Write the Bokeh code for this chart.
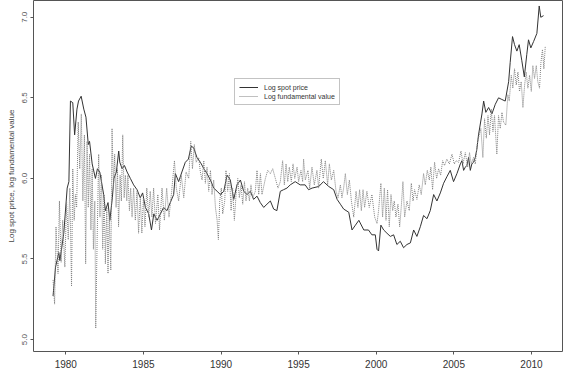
from bokeh.plotting import figure
from bokeh.models import Range1d, FixedTicker, PrintfTickFormatter, Legend, LegendItem
from bokeh.embed import file_html
from bokeh.resources import INLINE

# ---- data ----
spot_year = [1979.18, 1979.34, 1979.55, 1979.62, 1979.87, 1980.09, 1980.20, 1980.30, 1980.45, 1980.57,
             1980.72, 1980.82, 1980.99, 1981.16, 1981.30, 1981.45, 1981.53, 1981.70, 1981.91, 1982.04,
             1982.19, 1982.44, 1982.55, 1982.72, 1982.84, 1983.00, 1983.10, 1983.26, 1983.41, 1983.48,
             1983.63, 1983.78, 1983.95, 1984.16, 1984.37, 1984.59, 1984.80, 1984.95, 1985.13, 1985.34,
             1985.52, 1985.67, 1985.88, 1986.10, 1986.30, 1986.52, 1986.73, 1986.95, 1987.06, 1987.27,
             1987.48, 1987.70, 1987.90, 1988.08, 1988.24, 1988.45, 1988.67, 1988.90, 1989.10, 1989.32,
             1989.53, 1989.75, 1989.96, 1990.18, 1990.39, 1990.60, 1990.82, 1991.03, 1991.25, 1991.46,
             1991.68, 1991.89, 1992.10, 1992.32, 1992.53, 1992.75, 1992.96, 1993.18, 1993.39, 1993.60,
             1993.82, 1994.03, 1994.25, 1994.46, 1994.78, 1995.10, 1995.42, 1995.64, 1995.87, 1996.30,
             1996.60, 1996.94, 1997.26, 1997.48, 1997.69, 1997.90, 1998.23, 1998.44, 1998.66, 1998.88,
             1999.20, 1999.50, 1999.72, 1999.94, 2000.05, 2000.15, 2000.30, 2000.48, 2000.69, 2000.91,
             2001.12, 2001.33, 2001.55, 2001.76, 2001.98, 2002.20, 2002.41, 2002.62, 2002.84, 2003.05,
             2003.27, 2003.48, 2003.70, 2003.91, 2004.13, 2004.34, 2004.55, 2004.77, 2004.98, 2005.20,
             2005.42, 2005.52, 2005.63, 2005.74, 2005.84, 2005.95, 2006.06, 2006.16, 2006.27, 2006.38,
             2006.48, 2006.59, 2006.81, 2006.92, 2007.06, 2007.24, 2007.45, 2007.67, 2007.88, 2008.09,
             2008.31, 2008.53, 2008.63, 2008.78, 2008.91, 2009.06, 2009.21, 2009.38, 2009.54, 2009.70,
             2009.81, 2009.96, 2010.14, 2010.35, 2010.50, 2010.60, 2010.78]
spot_value = [5.27, 5.45, 5.54, 5.49, 5.66, 5.94, 5.98, 6.48, 6.47, 6.27,
              6.43, 6.48, 6.51, 6.43, 6.38, 6.21, 6.23, 6.09, 6.00, 6.06,
              6.04, 5.90, 5.80, 5.85, 5.74, 5.88, 6.00, 6.04, 6.17, 6.10,
              6.06, 6.08, 6.04, 6.00, 5.96, 5.93, 5.88, 5.91, 5.82, 5.78,
              5.68, 5.78, 5.74, 5.78, 5.82, 5.80, 5.85, 5.90, 6.03, 5.98,
              6.04, 6.10, 6.12, 6.20, 6.19, 6.13, 6.10, 6.06, 6.03, 5.99,
              5.94, 5.92, 5.90, 5.92, 6.02, 5.99, 5.87, 5.96, 5.99, 5.92,
              5.90, 5.92, 5.87, 5.89, 5.85, 5.82, 5.84, 5.86, 5.81, 5.80,
              5.92, 5.93, 5.94, 5.96, 5.98, 5.96, 5.96, 5.93, 5.94, 5.95,
              5.98, 5.95, 5.93, 5.87, 5.84, 5.81, 5.79, 5.68, 5.71, 5.74,
              5.68, 5.68, 5.65, 5.65, 5.56, 5.55, 5.71, 5.68, 5.66, 5.64,
              5.65, 5.59, 5.61, 5.57, 5.59, 5.60, 5.68, 5.64, 5.70, 5.77,
              5.75, 5.80, 5.90, 5.86, 5.91, 5.97, 6.01, 6.05, 5.98, 6.03,
              6.09, 6.11, 6.05, 6.07, 6.08, 6.13, 6.05, 6.09, 6.10, 6.13,
              6.18, 6.27, 6.40, 6.48, 6.41, 6.44, 6.40, 6.46, 6.50, 6.49,
              6.48, 6.60, 6.72, 6.88, 6.83, 6.79, 6.83, 6.73, 6.63, 6.77,
              6.86, 6.81, 6.85, 6.90, 7.07, 7.00, 7.01]

fund_year = [1979.18, 1979.28, 1979.37, 1979.50, 1979.59, 1979.70, 1979.80, 1979.94, 1980.05, 1980.16,
             1980.26, 1980.37, 1980.45, 1980.54, 1980.62, 1980.70, 1980.80, 1980.90, 1981.00, 1981.10,
             1981.20, 1981.28, 1981.37, 1981.45, 1981.53, 1981.62, 1981.70, 1981.78, 1981.87, 1981.93,
             1982.02, 1982.12, 1982.20, 1982.30, 1982.38, 1982.47, 1982.55, 1982.64, 1982.72, 1982.80,
             1982.90, 1982.98, 1983.07, 1983.15, 1983.24, 1983.33, 1983.40, 1983.50, 1983.58, 1983.67,
             1983.76, 1983.84, 1983.93, 1984.00, 1984.10, 1984.18, 1984.27, 1984.37, 1984.48, 1984.59,
             1984.69, 1984.80, 1984.90, 1985.00, 1985.10, 1985.22, 1985.34, 1985.44, 1985.55, 1985.66,
             1985.78, 1985.93, 1986.04, 1986.20, 1986.35, 1986.50, 1986.65, 1986.82, 1987.00, 1987.12,
             1987.27, 1987.44, 1987.60, 1987.75, 1987.92, 1988.05, 1988.16, 1988.28, 1988.40, 1988.56,
             1988.67, 1988.78, 1988.89, 1988.99, 1989.10, 1989.21, 1989.32, 1989.42, 1989.53, 1989.64,
             1989.75, 1989.83, 1989.92, 1990.02, 1990.11, 1990.24, 1990.32, 1990.43, 1990.54, 1990.65,
             1990.75, 1990.86, 1990.97, 1991.08, 1991.18, 1991.29, 1991.40, 1991.51, 1991.61, 1991.72,
             1991.83, 1991.93, 1992.04, 1992.21, 1992.32, 1992.43, 1992.54, 1992.64, 1992.86, 1993.01,
             1993.18, 1993.33, 1993.50, 1993.67, 1993.82, 1993.97, 1994.08, 1994.19, 1994.30, 1994.40,
             1994.53, 1994.64, 1994.75, 1994.90, 1995.00, 1995.15, 1995.26, 1995.32, 1995.43, 1995.60,
             1995.71, 1995.86, 1996.01, 1996.18, 1996.29, 1996.46, 1996.59, 1996.72, 1996.87, 1996.98,
             1997.11, 1997.26, 1997.41, 1997.54, 1997.69, 1997.79, 1997.90, 1998.01, 1998.14, 1998.27,
             1998.40, 1998.55, 1998.70, 1998.82, 1998.93, 1999.04, 1999.15, 1999.25, 1999.40, 1999.55,
             1999.72, 1999.90, 2000.05, 2000.15, 2000.30, 2000.41, 2000.52, 2000.63, 2000.73, 2000.84,
             2000.95, 2001.06, 2001.16, 2001.27, 2001.40, 2001.51, 2001.61, 2001.72, 2001.83, 2001.98,
             2002.13, 2002.26, 2002.37, 2002.47, 2002.62, 2002.77, 2002.90, 2003.05, 2003.16, 2003.29,
             2003.42, 2003.52, 2003.63, 2003.76, 2003.89, 2004.02, 2004.15, 2004.28, 2004.40, 2004.55,
             2004.71, 2004.88, 2005.03, 2005.16, 2005.31, 2005.46, 2005.59, 2005.74, 2005.89, 2006.01,
             2006.12, 2006.27, 2006.38, 2006.53, 2006.74, 2006.87, 2006.98, 2007.09, 2007.20, 2007.30,
             2007.41, 2007.52, 2007.62, 2007.77, 2007.88, 2007.99, 2008.10, 2008.20, 2008.35, 2008.48,
             2008.57, 2008.70, 2008.80, 2008.91, 2009.02, 2009.13, 2009.23, 2009.34, 2009.45, 2009.56,
             2009.66, 2009.77, 2009.88, 2009.99, 2010.09, 2010.20, 2010.31, 2010.41, 2010.52, 2010.61,
             2010.71, 2010.80, 2010.89]
fund_value = [5.37, 5.22, 5.70, 5.41, 5.86, 5.48, 5.74, 5.45, 5.86, 5.62,
              5.94, 5.33, 6.06, 5.74, 5.90, 5.82, 6.35, 6.06, 6.40, 5.86,
              6.27, 5.47, 6.23, 5.82, 6.15, 5.68, 6.06, 5.56, 5.86, 5.07,
              5.62, 6.15, 5.76, 6.02, 5.56, 5.90, 5.47, 5.82, 5.41, 5.78,
              5.43, 6.31, 5.94, 6.15, 5.82, 6.06, 5.70, 6.02, 5.86, 6.27,
              5.88, 6.02, 5.86, 6.02, 5.80, 5.94, 5.76, 5.94, 5.74, 5.92,
              5.66, 5.88, 5.66, 5.88, 5.70, 5.94, 5.76, 5.92, 5.76, 5.94,
              5.72, 5.90, 5.68, 5.94, 5.74, 5.94, 5.76, 5.92, 6.11, 5.94,
              5.86, 6.02, 5.88, 6.04, 6.00, 6.23, 6.06, 6.21, 6.10, 6.13,
              6.04, 5.99, 6.11, 5.97, 6.07, 5.92, 6.05, 5.90, 5.99, 5.82,
              5.74, 5.62, 5.86, 5.94, 5.78, 5.86, 6.05, 5.92, 6.03, 5.80,
              5.94, 5.74, 5.90, 6.00, 5.88, 5.96, 5.84, 5.98, 5.86, 5.94,
              5.86, 5.96, 5.88, 5.92, 6.05, 5.90, 6.03, 5.90, 6.00, 6.05,
              6.03, 6.06, 6.00, 5.94, 5.98, 6.11, 5.96, 6.09, 5.98, 6.07,
              5.98, 6.09, 6.00, 6.07, 5.98, 6.05, 5.98, 6.12, 5.99, 6.05,
              5.94, 6.07, 5.96, 6.05, 5.94, 6.12, 6.00, 6.11, 5.96, 6.09,
              5.99, 6.05, 5.92, 5.88, 5.96, 5.88, 5.94, 6.03, 5.90, 5.99,
              5.86, 5.76, 5.92, 5.82, 5.93, 5.80, 5.93, 5.82, 5.92, 5.82,
              5.90, 5.76, 5.72, 5.80, 5.97, 5.76, 5.94, 5.74, 5.93, 5.70,
              5.90, 5.80, 5.86, 5.76, 5.84, 5.70, 5.82, 5.98, 5.76, 5.86,
              5.80, 5.97, 5.86, 5.93, 5.87, 5.96, 5.90, 6.03, 5.96, 6.05,
              5.99, 6.07, 5.93, 6.10, 6.00, 6.06, 6.02, 6.11, 6.08, 6.12,
              6.09, 6.15, 6.09, 6.11, 6.10, 6.17, 6.09, 6.16, 6.07, 6.16,
              6.09, 6.13, 6.09, 6.23, 6.31, 6.13, 6.37, 6.25, 6.39, 6.27,
              6.43, 6.29, 6.39, 6.15, 6.39, 6.31, 6.41, 6.35, 6.33, 6.52,
              6.48, 6.64, 6.56, 6.68, 6.58, 6.66, 6.54, 6.60, 6.44, 6.58,
              6.66, 6.56, 6.64, 6.54, 6.70, 6.62, 6.70, 6.60, 6.56, 6.72,
              6.80, 6.68, 6.82]

x_ticks = [1980, 1985, 1990, 1995, 2000, 2005, 2010]
y_ticks = [5.0, 5.5, 6.0, 6.5, 7.0]
series_labels = ["Log spot price", "Log fundamental value"]
y_title = "Log spot price, log fundamental value"

p = figure(width=564, height=370, output_backend="svg", toolbar_location=None,
           x_range=Range1d(1977.92, 2012.0), y_range=Range1d(4.926, 7.104),
           min_border_left=33, min_border_right=2, min_border_top=0, min_border_bottom=0,
           background_fill_color="white", border_fill_color="white")

p.xgrid.visible = False
p.ygrid.visible = False
p.outline_line_color = "#555555"
p.outline_line_width = 1

for ax in (p.xaxis[0], p.yaxis[0]):
    ax.axis_line_color = None
    ax.major_tick_line_color = "#555555"
    ax.minor_tick_line_color = None
    ax.major_tick_in = 0
    ax.major_tick_out = 3
    ax.major_label_text_font = "Liberation Sans"
    ax.major_label_text_color = "#333333"

p.xaxis.ticker = FixedTicker(ticks=x_ticks)
p.xaxis.major_label_text_font_size = "10px"
p.xaxis.major_label_standoff = 5

p.yaxis.ticker = FixedTicker(ticks=y_ticks)
p.yaxis.formatter = PrintfTickFormatter(format="%.1f")
p.yaxis.major_label_orientation = "vertical"
p.yaxis.major_label_text_font_size = "8px"
p.yaxis.major_label_text_color = "#555555"
p.yaxis.major_label_standoff = 3
p.yaxis.axis_label = y_title
p.yaxis.axis_label_text_font = "Liberation Sans"
p.yaxis.axis_label_text_font_size = "8px"
p.yaxis.axis_label_text_font_style = "normal"
p.yaxis.axis_label_text_color = "#444444"
p.yaxis.axis_label_standoff = 4

r_spot = p.line(spot_year, spot_value, line_color="#333333", line_width=1)
r_fund = p.line(fund_year, fund_value, line_color="#808080", line_width=1, line_dash="1 1")

legend = Legend(items=[LegendItem(label=series_labels[0], renderers=[r_spot]),
                       LegendItem(label=series_labels[1], renderers=[r_fund])],
                location=(201, 246), margin=0, padding=4, spacing=1,
                glyph_width=19, glyph_height=8, label_height=8, label_standoff=6,
                label_text_font="Liberation Sans", label_text_font_size="7px",
                label_text_color="#333333", border_line_color="#888888",
                background_fill_alpha=1.0)
p.add_layout(legend, "center")

with open("out.html", "w") as f:
    f.write(file_html(p, INLINE))
